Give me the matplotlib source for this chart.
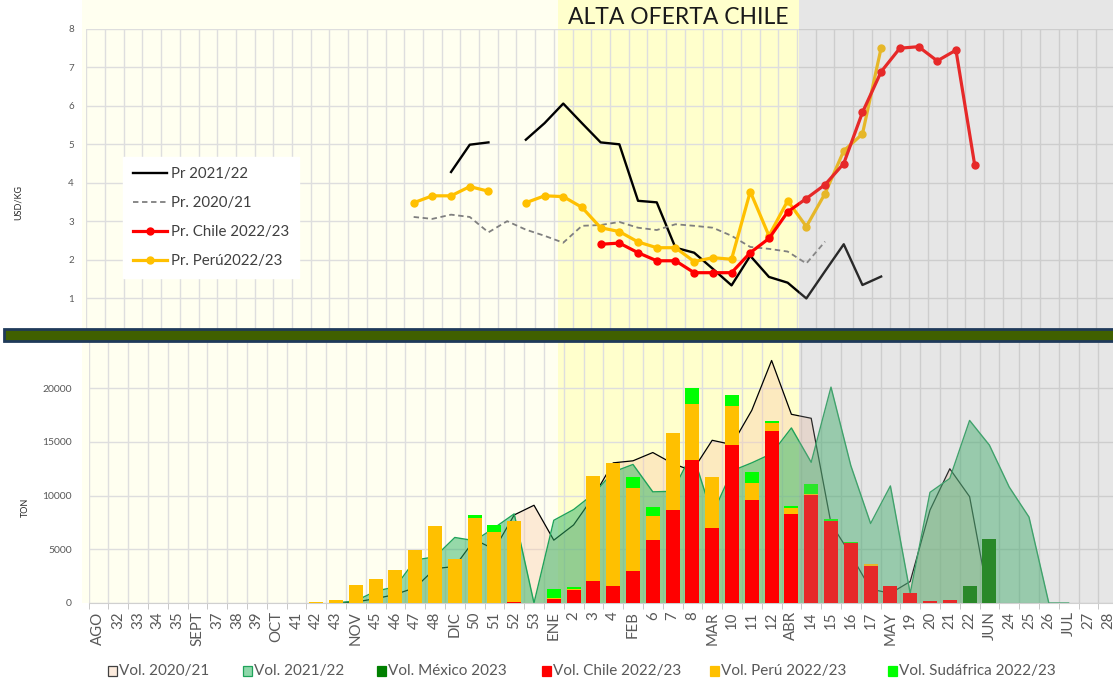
import numpy as np
import matplotlib
matplotlib.use("Agg")
import matplotlib.pyplot as plt
from matplotlib.patches import Rectangle

plt.rcParams['font.family'] = ['Lato', 'DejaVu Sans']

nan = np.nan
W, H = 1113, 684

# ---------------- top chart: prices USD/KG (55 weekly slots) ----------------
n_top = 55
pr_2122_start = 19
pr_2122 = [4.28, 4.99, 5.05, nan, 5.12, 5.55, 6.06, 5.55, 5.05, 5.00, 3.53, 3.49,
           2.31, 2.18, 1.76, 1.33, 2.10, 1.55, 1.40, 0.99, 1.70, 2.40, 1.34, 1.56]
pr_2021_start = 17
pr_2021 = [3.11, 3.06, 3.17, 3.11, 2.71, 3.00, 2.78, 2.62, 2.44, 2.88, 2.90, 2.98,
           2.83, 2.77, 2.92, 2.88, 2.83, 2.62, 2.33, 2.28, 2.21, 1.90, 2.47]
pr_peru_start = 17
pr_peru = [3.48, 3.66, 3.66, 3.90, 3.78, nan, 3.48, 3.66, 3.64, 3.36, 2.83, 2.73,
           2.46, 2.31, 2.31, 1.95, 2.05, 2.01, 3.77, 2.62, 3.53, 2.86, 3.72, 4.83,
           5.27, 7.51]
pr_chile_start = 27
pr_chile = [2.40, 2.43, 2.18, 1.97, 1.97, 1.66, 1.66, 1.66, 2.18, 2.55, 3.24, 3.59,
            3.95, 4.50, 5.83, 6.89, 7.50, 7.54, 7.17, 7.45, 4.47]

# ---------------- bottom chart: volumes (TON) ----------------
weeks = ['AGO', '32', '33', '34', '35', 'SEPT', '37', '38', '39', 'OCT', '41', '42',
         '43', 'NOV', '45', '46', '47', '48', 'DIC', '50', '51', '52', '53', 'ENE',
         '2', '3', '4', 'FEB', '6', '7', '8', 'MAR', '10', '11', '12', 'ABR', '14',
         '15', '16', '17', 'MAY', '19', '20', '21', '22', 'JUN', '24', '25', '26',
         'JUL', '27', '28']

vol_2021_start = 12
vol_2021 = [0, 100, 400, 800, 1430, 3200, 3400, 5900, 5000, 8200, 9100, 5850, 7270,
            9900, 13050, 13240, 14010, 12990, 12300, 15150, 14750, 17940, 22580,
            17570, 17200, 7400, 4500, 1300, 900, 2000, 8650, 12500, 9900, 0]
vol_2122_start = 12
vol_2122 = [0, 200, 1100, 1500, 4000, 4300, 6100, 5800, 7000, 8300, 0, 7700, 8700,
            10150, 12200, 12900, 10350, 10400, 14000, 8200, 12300, 13050, 13900,
            16300, 13100, 20100, 12800, 7400, 10900, 900, 10300, 11600, 17000,
            14700, 10800, 8000, 0, 0]
mex_start = 44
vol_mexico = [1610, 5950]
chile_start = 21
vol_chile = [60, 0, 370, 1175, 2040, 1610, 3000, 5845, 8690, 13270, 6960, 14750,
             9590, 16020, 8290, 10075, 7660, 5550, 3440, 1610, 960, 155, 310]
peru_start = 11
vol_peru = [100, 280, 1700, 2250, 3100, 4900, 7200, 4100, 7950, 6600, 7570, 0, 120,
            155, 9775, 11440, 7730, 2290, 7145, 5230, 4730, 3590, 1540, 710, 560,
            95, 0, 0, 155]
sa_start = 19
vol_sudafrica = [200, 680, 0, 0, 835, 125, 0, 0, 1020, 775, 0, 1510, 0, 1020, 1090,
                 190, 180, 870, 150, 120]

n_bot = len(weeks)


def full(start, vals, n):
    arr = np.zeros(n)
    arr[start:start + len(vals)] = vals
    return arr


chile_f = full(chile_start, vol_chile, n_bot)
peru_f = full(peru_start, vol_peru, n_bot)
sa_f = full(sa_start, vol_sudafrica, n_bot)
mex_f = full(mex_start, vol_mexico, n_bot)

# ---------------- figure ----------------
fig = plt.figure(figsize=(W / 100, H / 100), dpi=100)
fig.patch.set_facecolor('white')


def fx(px):
    return px / W


def fy(py):
    return 1 - py / H


def frect(x0, y0, x1, y1, **kw):
    r = Rectangle((fx(x0), fy(y1)), fx(x1) - fx(x0), fy(y0) - fy(y1),
                  transform=fig.transFigure, **kw)
    fig.add_artist(r)
    return r


# background bands
frect(82, 0, 558, 603, facecolor='#FFFFF0', edgecolor='none', zorder=-2)
frect(558, 0, 799, 603, facecolor='#FFFFCC', edgecolor='none', zorder=-2)

grid_c = '#DEDEDE'
tick_c = '#595959'

# ---- top axes ----
ax1 = fig.add_axes([fx(86.4), fy(336.5), (n_top * 18.7) / W, (336.5 - 29) / H])
ax1.set_facecolor('none')
ax1.set_xlim(0, n_top)
ax1.set_ylim(0, 8)
ax1.set_xticks(np.arange(0, n_top + 1))
ax1.set_xticklabels([])
ax1.set_yticks(np.arange(1, 9))
ax1.set_yticklabels([str(v) for v in range(1, 9)], fontsize=7, color=tick_c)
ax1.tick_params(axis='both', length=0, pad=9)
ax1.grid(True, color=grid_c, lw=1.0)
ax1.set_axisbelow(True)
for s in ax1.spines.values():
    s.set_visible(False)


def xs(start, vals):
    return np.arange(start, start + len(vals)) + 0.5


l1, = ax1.plot(xs(pr_2122_start, pr_2122), pr_2122, color='black', lw=1.7,
               label='Pr 2021/22', zorder=3)
l2, = ax1.plot(xs(pr_2021_start, pr_2021), pr_2021, color='#7F7F7F', lw=1.3,
               ls=(0, (3, 2)), label='Pr. 2020/21', zorder=3)
l4, = ax1.plot(xs(pr_peru_start, pr_peru), pr_peru, color='#FFC000', lw=2.3,
               marker='o', ms=5, label='Pr. Perú2022/23', zorder=4)
l3, = ax1.plot(xs(pr_chile_start, pr_chile), pr_chile, color='#FF0000', lw=2.3,
               marker='o', ms=5, label='Pr. Chile 2022/23', zorder=5)

leg = ax1.legend(handles=[l1, l2, l3, l4], loc='upper left',
                 bbox_to_anchor=(fx(123), fy(157)), bbox_transform=fig.transFigure,
                 frameon=True, fancybox=False, facecolor='white', edgecolor='white',
                 framealpha=1, fontsize=10.8, handlelength=2.3, handletextpad=0.25,
                 labelspacing=1.0, borderpad=0.65, borderaxespad=0)
for t in leg.get_texts():
    t.set_color('#404040')

fig.text(fx(18), fy(203), 'USD/KG', rotation=90, ha='center', va='center',
         fontsize=6.5, color='#262626')

# ---- bottom axes ----
ax2 = fig.add_axes([fx(88.5), fy(603), (n_bot * 19.8) / W, (603 - 334.5) / H])
ax2.set_facecolor('none')
ax2.set_xlim(-0.5, n_bot - 0.5)
ax2.set_ylim(0, 25000)
ax2.set_yticks([0, 5000, 10000, 15000, 20000])
ax2.set_yticklabels(['0', '5000', '10000', '15000', '20000'], fontsize=7.5, color=tick_c)
ax2.set_xticks(np.arange(n_bot))
ax2.set_xticklabels(weeks, rotation=90, fontsize=10.8, color=tick_c)
ax2.set_xticks(np.arange(-0.5, n_bot), minor=True)
ax2.tick_params(axis='x', which='major', length=0, pad=6)
ax2.tick_params(axis='x', which='minor', length=4, color='#BFBFBF')
ax2.tick_params(axis='y', length=0, pad=12)
ax2.grid(True, axis='y', which='major', color=grid_c, lw=1.0)
ax2.grid(True, axis='x', which='minor', color=grid_c, lw=1.0)
ax2.set_axisbelow(True)
for k, s in ax2.spines.items():
    s.set_visible(k == 'bottom')
ax2.spines['bottom'].set_color('#D0D0D0')

fig.text(fx(25), fy(507), 'TON', rotation=90, ha='center', va='center',
         fontsize=6.5, color='#262626')

x21 = np.arange(vol_2021_start, vol_2021_start + len(vol_2021))
ax2.fill_between(x21, vol_2021, 0, color='#F8CBAD', alpha=0.4, lw=0, zorder=1)
ax2.plot(x21, vol_2021, color='black', lw=0.9, zorder=1.1)
x22 = np.arange(vol_2122_start, vol_2122_start + len(vol_2122))
ax2.fill_between(x22, vol_2122, 0, color='#2EB464', alpha=0.5, lw=0, zorder=1.2)
ax2.plot(x22, vol_2122, color='#1FA35A', lw=1.0, zorder=1.3)

xb = np.arange(n_bot)
bw = 0.7
ax2.bar(xb, mex_f, bw, color='#008000', zorder=3)
ax2.bar(xb, chile_f, bw, color='#FF0000', zorder=3)
ax2.bar(xb, peru_f, bw, bottom=chile_f, color='#FFC000', zorder=3)
ax2.bar(xb, sa_f, bw, bottom=chile_f + peru_f, color='#00FF00', zorder=3)

# gray overlay on the right (end of high supply)
frect(799, 0, W + 5, 603, facecolor='#A0A0A0', edgecolor='none', alpha=0.26, zorder=5)

# separator bar
frect(4, 328.5, W + 5, 341, facecolor='#406000', edgecolor='#1F3A5A', lw=2.0, zorder=6)

# title
fig.text(fx(678), fy(17), 'ALTA OFERTA CHILE', ha='center', va='center',
         fontsize=16.5, color='#1A1A1A', zorder=7)

# bottom legend (manual)
leg_items = [
    ('Vol. 2020/21', '#FCEBDD', '#404040', 108),
    ('Vol. 2021/22', '#8ED8AA', '#1FA35A', 243),
    ('Vol. México 2023', '#008000', '#008000', 377),
    ('Vol. Chile 2022/23', '#FF0000', '#FF0000', 542),
    ('Vol. Perú 2022/23', '#FFC000', '#FFC000', 710),
    ('Vol. Sudáfrica 2022/23', '#00FF00', '#00FF00', 888),
]
ly = 671
for label, fc, ec, x0 in leg_items:
    frect(x0, ly - 5, x0 + 9, ly + 5, facecolor=fc, edgecolor=ec, lw=0.9, zorder=7)
    fig.text(fx(x0 + 11), fy(ly), label, ha='left', va='center', fontsize=11,
             color=tick_c, zorder=7)

fig.savefig('out.png', dpi=100, facecolor='white')
